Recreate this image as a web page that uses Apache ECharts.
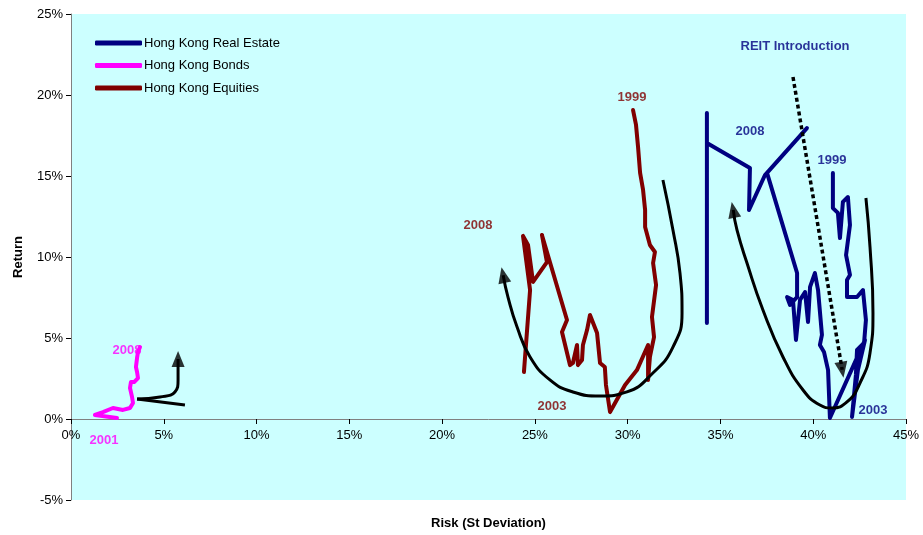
<!DOCTYPE html>
<html>
<head>
<meta charset="utf-8">
<script src="https://cdn.jsdelivr.net/npm/echarts@6/dist/echarts.min.js"></script>
<style>
html,body{margin:0;padding:0;background:#fff;}
#chart{width:923px;height:535px;}
</style>
</head>
<body>
<div id="chart"></div>
<script>
// ---- Data (risk = st deviation %, return %) ----
var seriesNames = ['Hong Kong Real Estate', 'Hong Kong Bonds', 'Hong Kong Equities'];
var xTicks = [0, 5, 10, 15, 20, 25, 30, 35, 40, 45];
var yTicks = [-5, 0, 5, 10, 15, 20, 25];

var reRisk = [41.06,41.06,41.33,41.44,41.60,41.87,41.98,41.77,41.98,41.82,41.82,42.36,42.68,42.84,42.74,42.36,42.30,42.09,42.41,42.79,40.90,40.80,40.58,40.36,40.47,40.26,40.09,39.83,39.72,39.56,39.29,39.07,38.91,38.59,38.75,39.13,39.13,37.51,39.66,37.40,36.54,36.59,34.27,34.27,34.27];
var reReturn = [15.19,13.02,12.72,11.17,13.40,13.70,11.98,10.12,8.89,8.58,7.53,7.53,7.96,6.11,4.69,4.26,2.72,0.12,3.02,4.88,0.06,3.02,4.14,4.57,5.19,7.96,9.01,8.15,5.99,7.84,7.35,4.88,7.35,7.53,7.04,7.53,9.01,15.19,17.96,15.06,12.90,15.49,17.04,18.89,5.93];

var bondRisk = [2.48,1.29,1.72,2.26,2.80,3.18,3.34,3.29,3.18,3.23,3.40,3.61,3.56,3.50,3.56,3.61,3.72];
var bondReturn = [0.06,0.25,0.43,0.68,0.56,0.68,0.99,1.36,1.91,2.28,2.28,2.53,2.90,3.21,3.77,4.14,4.44];

var eqRisk = [30.29,30.45,30.56,30.67,30.83,30.94,30.94,31.20,31.47,31.37,31.53,31.31,31.42,31.20,31.10,31.10,30.50,29.86,29.05,28.83,28.77,28.51,28.35,27.97,27.81,27.59,27.54,27.32,27.27,27.05,26.89,26.46,26.73,25.38,25.65,24.90,24.63,24.36,24.74,24.41];
var eqReturn = [19.07,18.15,16.79,15.19,14.14,12.90,11.85,10.74,10.31,9.63,8.27,6.30,5.06,3.83,2.41,4.57,3.02,2.10,0.43,2.10,3.21,3.46,5.31,6.42,5.49,4.57,3.64,3.33,4.57,3.46,3.33,5.37,6.11,11.36,9.69,8.46,10.74,11.30,7.96,2.90];

// annotation curves (risk, return)
var eqArrowRisk = [31.90,32.44,32.82,32.93,32.44,31.36,29.96,28.51,27.05,25.81,24.74,24.04,23.55,23.29];
var eqArrowReturn = [14.75,11.67,9.01,6.54,4.44,2.84,1.67,1.42,1.67,2.41,3.83,5.68,7.53,8.88];
var reArrowRisk = [42.84,43.06,43.22,43.06,42.52,41.82,41.01,40.36,39.45,38.37,37.29,36.43,35.89,35.69];
var reArrowReturn = [13.64,10.62,6.54,4.07,2.22,1.05,0.68,0.86,1.79,3.83,6.73,9.63,11.67,12.91];
var bondArrowRisk1 = [6.14, 3.56];
var bondArrowReturn1 = [0.86, 1.23];
var bondArrowRisk2 = [3.56, 4.80, 5.60, 5.77, 5.77, 5.77];
var bondArrowReturn2 = [1.23, 1.36, 1.67, 2.41, 3.21, 3.70];
var reitArrowRisk = [38.91, 41.56];
var reitArrowReturn = [21.11, 3.04];
// arrow heads: [risk, return, rotation]
var arrowHeads = [[5.77, 3.70, 0], [23.29, 8.88, 12], [35.69, 12.91, 11], [41.56, 3.04, -170.5]];

// year labels
var eqLabels = [['1999', 30.23, 19.88], ['2003', 25.92, 0.80], ['2008', 21.93, 11.98]];
var reLabels = [['1999', 41.01, 15.99], ['2003', 43.22, 0.56], ['2008', 36.59, 17.78], ['REIT Introduction', 39.02, 23.02]];
var bondLabels = [['2001', 1.78, -1.30], ['2008', 3.02, 4.26]];

function zip(a, b) { return a.map(function (v, i) { return [v, b[i]]; }); }

var colors = { re: '#000080', bond: '#FF00FF', eq: '#800000' };
var FONT = 'Liberation Sans, Arial, sans-serif';

function pathSeries(name, data, color) {
  return {
    name: name, type: 'line', data: data, symbol: 'none', smooth: false,
    lineStyle: { color: color, width: 4, cap: 'round', join: 'round' },
    itemStyle: { color: color }, z: 3, animation: false
  };
}
function curveSeries(data, opts) {
  return {
    type: 'line', data: data, symbol: 'none', smooth: opts.smooth || false,
    lineStyle: { color: '#000', width: opts.width || 3, type: opts.type || 'solid', cap: 'butt' },
    z: 4, animation: false, silent: true, legendHoverLink: false
  };
}
function labelSeries(list, color) {
  return {
    type: 'scatter', symbolSize: 0, z: 6, animation: false, silent: true,
    data: list.map(function (d) { return { name: d[0], value: [d[1], d[2]] }; }),
    label: { show: true, position: 'inside', formatter: '{b}', color: color, fontFamily: FONT, fontWeight: 'bold', fontSize: 13 }
  };
}

var chart = echarts.init(document.getElementById('chart'), null, { renderer: 'canvas' });
chart.setOption({
  backgroundColor: '#ffffff',
  animation: false,
  textStyle: { fontFamily: FONT },
  grid: { left: 71, right: 17, top: 14, bottom: 35, show: true, backgroundColor: '#CCFFFF', borderWidth: 0, containLabel: false, outerBoundsMode: 'none' },
  legend: {
    data: seriesNames, orient: 'vertical', left: 90, top: 31.5,
    itemWidth: 47, itemHeight: 5, itemGap: 9.5, icon: 'roundRect',
    textStyle: { fontFamily: FONT, fontSize: 13, color: '#000', padding: [0, 0, 0, -3] },
    selectedMode: false
  },
  xAxis: {
    type: 'value', min: 0, max: 45, interval: 5, offset: -81,
    name: 'Risk (St Deviation)', nameLocation: 'middle', nameGap: 98,
    nameTextStyle: { fontFamily: FONT, fontWeight: 'bold', fontSize: 13, color: '#000' },
    axisLine: { show: true, onZero: false, lineStyle: { color: '#808080', width: 1 } },
    axisTick: { show: true, length: 5, lineStyle: { color: '#000' } },
    axisLabel: { color: '#000', fontSize: 13, fontFamily: FONT, margin: 10, formatter: function (v) { return v + '%'; } },
    splitLine: { show: false }
  },
  yAxis: {
    type: 'value', min: -5, max: 25, interval: 5,
    name: 'Return', nameLocation: 'middle', nameGap: 46, nameRotate: 90,
    nameTextStyle: { fontFamily: FONT, fontWeight: 'bold', fontSize: 13, color: '#000' },
    axisLine: { show: true, lineStyle: { color: '#808080', width: 1 } },
    axisTick: { show: true, length: 5, lineStyle: { color: '#000' } },
    axisLabel: { color: '#000', fontSize: 13, fontFamily: FONT, margin: 8, formatter: function (v) { return v + '%'; } },
    splitLine: { show: false }
  },
  series: [
    pathSeries(seriesNames[0], zip(reRisk, reReturn), colors.re),
    pathSeries(seriesNames[1], zip(bondRisk, bondReturn), colors.bond),
    pathSeries(seriesNames[2], zip(eqRisk, eqReturn), colors.eq),
    curveSeries(zip(eqArrowRisk, eqArrowReturn), { smooth: 0.5 }),
    curveSeries(zip(reArrowRisk, reArrowReturn), { smooth: 0.5 }),
    curveSeries(zip(bondArrowRisk1, bondArrowReturn1), {}),
    curveSeries(zip(bondArrowRisk2, bondArrowReturn2), { smooth: 0.5 }),
    curveSeries(zip(reitArrowRisk, reitArrowReturn), { type: [4, 3], width: 3.5 }),
    {
      type: 'scatter', z: 5, animation: false, silent: true,
      symbol: 'triangle', symbolSize: [13, 16],
      itemStyle: { color: '#000' },
      data: arrowHeads.map(function (a) { return { value: [a[0], a[1]], symbolRotate: a[2] }; })
    },
    labelSeries(eqLabels, colors.eq),
    labelSeries(reLabels, colors.re),
    labelSeries(bondLabels, colors.bond)
  ]
});
</script>
</body>
</html>
